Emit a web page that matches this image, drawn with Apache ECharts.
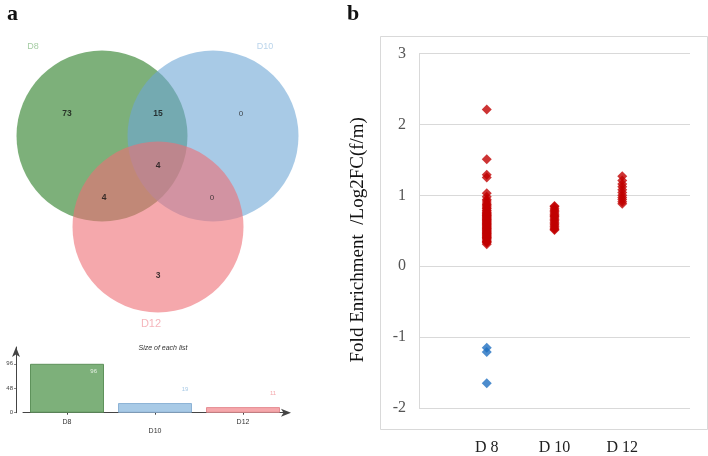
<!DOCTYPE html>
<html><head><meta charset="utf-8">
<script src="https://cdn.jsdelivr.net/npm/echarts@6/dist/echarts.min.js"></script>
<style>html,body{margin:0;padding:0;background:#fff}#c{width:708px;height:456px}</style>
</head><body><div id="c"></div>
<script>
// ---- data ----
const vennSets = ['D8', 'D10', 'D12'];
const vennRegions = ['D8 only', 'D8&D10', 'D10 only', 'D8&D10&D12', 'D8&D12', 'D10&D12', 'D12 only'];
const vennCounts = [73, 15, 0, 4, 4, 0, 3];
const listSizes = [96, 19, 11];
const barTicks = [0, 48, 96];
const scatterCats = ['D 8', 'D 10', 'D 12'];
const d8Up = [2.21, 1.51, 1.29, 1.25, 1.03, 0.98, 0.94, 0.92, 0.89, 0.87, 0.86, 0.84, 0.82, 0.81, 0.79, 0.78, 0.76, 0.75, 0.74, 0.73, 0.72, 0.71, 0.70, 0.69, 0.68, 0.67, 0.66, 0.65, 0.64, 0.63, 0.62, 0.61, 0.60, 0.59, 0.58, 0.57, 0.56, 0.55, 0.54, 0.53, 0.52, 0.51, 0.50, 0.49, 0.48, 0.47, 0.46, 0.45, 0.44, 0.43, 0.42, 0.41, 0.40, 0.39, 0.38, 0.36, 0.35, 0.34, 0.33, 0.31];
const d8Down = [-1.15, -1.21, -1.65];
const d10 = [0.85, 0.84, 0.81, 0.79, 0.77, 0.75, 0.73, 0.71, 0.70, 0.68, 0.66, 0.64, 0.62, 0.60, 0.58, 0.56, 0.54, 0.52, 0.51];
const d12 = [1.27, 1.21, 1.16, 1.12, 1.08, 1.04, 1.00, 0.97, 0.94, 0.91, 0.88];
const yTicks = [-2, -1, 0, 1, 2, 3];

// ---- layout (positions in the venn panel's own units) ----
const vennCircleCenters = [[102, 136], [213, 136], [158, 227]];
const vennRegionSpots = [[67, 114], [158, 114], [241, 114], [158, 166], [104, 198], [212, 198], [158, 276]];
const vennNameSpots = [[33, 47], [265, 47], [151, 324]];
const vennFill = ['#267B21', '#6EA7D5', '#EE6E75'];
const vennNameColor = ['#8DBF8B', '#A9C9E6', '#F2A3AA'];
const barFill = ['#7DB07A', '#A8CAE6', '#F5A8AC'];
const barBorder = ['#5E925B', '#8DB3D6', '#E58D93'];

const chart = echarts.init(document.getElementById('c'), null, {renderer: 'canvas'});
const serif = '"Liberation Serif", "DejaVu Serif", serif';
const sans = '"Liberation Sans", Arial, sans-serif';

const pts = (arr, x) => arr.map(v => [x, v]);

const option = {
  animation: false,
  backgroundColor: '#fff',
  title: [
    {text: 'a', left: 2, top: -2, textStyle: {fontFamily: serif, fontWeight: 'bold', fontSize: 22, color: '#111'}},
    {text: 'b', left: 342, top: -2, textStyle: {fontFamily: serif, fontWeight: 'bold', fontSize: 22, color: '#111'}},
    {text: 'Size of each list', left: 158, top: 340, textAlign: 'center',
     textStyle: {fontFamily: sans, fontStyle: 'italic', fontWeight: 'normal', fontSize: 7, color: '#333'}}
  ],
  graphic: [
    {type: 'rect', shape: {x: 380.5, y: 36.5, width: 327, height: 393}, style: {fill: 'none', stroke: '#d9d9d9', lineWidth: 1}, z: -1}
  ],
  grid: [
    {left: 0, top: 0, width: 300, height: 340},
    {left: 23, top: 347, width: 264, height: 65.7},
    {left: 419, top: 53.5, width: 271, height: 359}
  ],
  xAxis: [
    {gridIndex: 0, type: 'value', min: 0, max: 300, show: false},
    {gridIndex: 1, type: 'category', data: vennSets,
     axisLine: {lineStyle: {color: '#444', width: 1}, symbol: ['none', 'arrow'], symbolSize: [6, 10], symbolOffset: [0, 4]},
     axisTick: {show: true, alignWithLabel: true, length: 2, lineStyle: {color: '#444'}},
     axisLabel: {fontFamily: sans, fontSize: 7, color: '#333', margin: 5, lineHeight: 9,
       formatter: (v, i) => (i === 1 ? '\n' + v : v)}},
    {gridIndex: 2, type: 'value', min: 0, max: 4, interval: 1,
     axisLine: {show: false}, axisTick: {show: false}, splitLine: {show: false},
     axisLabel: {fontFamily: serif, fontSize: 16, color: '#222', margin: 32,
       formatter: v => (v >= 1 && v <= 3 ? scatterCats[v - 1] : '')}}
  ],
  yAxis: [
    {gridIndex: 0, type: 'value', min: 0, max: 340, inverse: true, show: false},
    {gridIndex: 1, type: 'value', min: 0, max: 129, interval: 48, offset: 7,
     axisLine: {show: true, lineStyle: {color: '#444'}, symbol: ['none', 'arrow'], symbolSize: [6, 10]},
     axisTick: {show: true, length: 2, lineStyle: {color: '#888'}},
     splitLine: {show: false},
     axisLabel: {fontFamily: sans, fontSize: 6, color: '#444', margin: 3, showMaxLabel: false,
       formatter: v => (barTicks.indexOf(v) >= 0 ? String(v) : '')}},
    {gridIndex: 2, type: 'value', min: yTicks[0], max: yTicks[yTicks.length - 1], interval: 1,
     name: 'Fold Enrichment  /Log2FC(f/m)', nameLocation: 'middle', nameGap: 51,
     nameTextStyle: {fontFamily: serif, fontSize: 19, color: '#111', padding: [0, 0, 0, -18]},
     axisLine: {show: true, lineStyle: {color: '#d9d9d9'}}, axisTick: {show: false},
     splitLine: {show: true, lineStyle: {color: '#d9d9d9'}},
     axisLabel: {fontFamily: serif, fontSize: 16, color: '#555', margin: 13}}
  ],
  series: [
    {type: 'scatter', xAxisIndex: 0, yAxisIndex: 0, symbol: 'circle', symbolSize: 171, silent: true,
     data: vennCircleCenters.map((c, i) => ({value: c, itemStyle: {color: vennFill[i], opacity: 0.6}}))},
    {type: 'scatter', xAxisIndex: 0, yAxisIndex: 0, symbolSize: 0, z: 5,
     data: vennRegionSpots.map((c, i) => ({value: [c[0], c[1], vennCounts[i]], name: vennRegions[i]})),
     label: {show: true, position: 'inside', fontFamily: sans, fontSize: 8, color: '#111',
       formatter: p => p.value[2] === 0 ? '{n|0}' : '{b|' + p.value[2] + '}',
       rich: {b: {fontWeight: 'bold', fontSize: 8.5, color: '#111', fontFamily: sans}, n: {fontSize: 8, color: '#222', fontFamily: sans}}}},
    {type: 'scatter', xAxisIndex: 0, yAxisIndex: 0, symbolSize: 0, z: 5,
     data: vennNameSpots.map((c, i) => ({value: [c[0], c[1]], name: vennSets[i],
       label: {color: vennNameColor[i], fontSize: i === 2 ? 11 : 9}})),
     label: {show: true, position: 'inside', fontFamily: sans, formatter: '{b}'}},
    {type: 'bar', xAxisIndex: 1, yAxisIndex: 1, barWidth: 74,
     data: listSizes.map((v, i) => ({value: v,
       itemStyle: {color: barFill[i], borderColor: barBorder[i], borderWidth: 1},
       label: i === 0 ? {position: 'insideTopRight', offset: [-2, 0], color: '#E6F0E4'}
                      : {position: 'top', offset: [30, -6], color: barFill[i]}})),
     label: {show: true, fontFamily: sans, fontSize: 6}},
    {type: 'scatter', xAxisIndex: 2, yAxisIndex: 2, symbol: 'diamond', symbolSize: 10,
     itemStyle: {color: '#C00000'}, data: pts(d8Up, 1)},
    {type: 'scatter', xAxisIndex: 2, yAxisIndex: 2, symbol: 'diamond', symbolSize: 10,
     itemStyle: {color: '#1F6FC0'}, data: pts(d8Down, 1)},
    {type: 'scatter', xAxisIndex: 2, yAxisIndex: 2, symbol: 'diamond', symbolSize: 10,
     itemStyle: {color: '#C00000'}, data: pts(d10, 2)},
    {type: 'scatter', xAxisIndex: 2, yAxisIndex: 2, symbol: 'diamond', symbolSize: 10,
     itemStyle: {color: '#C00000'}, data: pts(d12, 3)}
  ]
};
chart.setOption(option);
</script></body></html>
